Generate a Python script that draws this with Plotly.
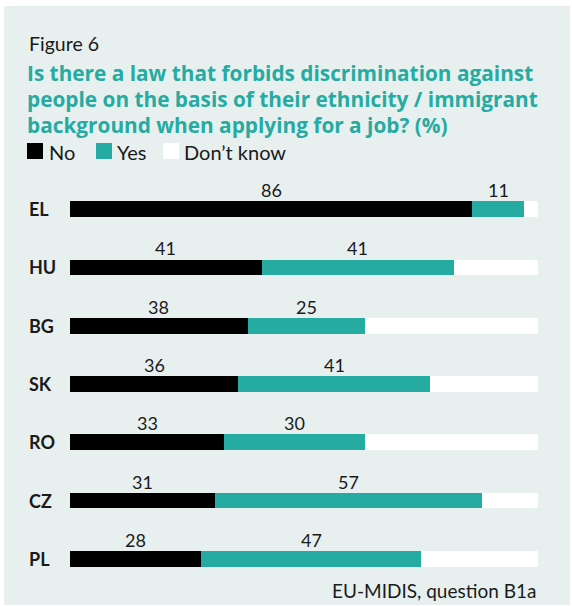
import plotly.graph_objects as go

# ---- data ----
countries = ["EL", "HU", "BG", "SK", "RO", "CZ", "PL"]
no_vals = [86, 41, 38, 36, 33, 31, 28]
yes_vals = [11, 41, 25, 41, 30, 57, 47]
dk_vals = [3, 18, 37, 23, 37, 12, 25]
series_names = ["No", "Yes", "Don\u2019t know"]
title_lines = ["Is there a law that forbids discrimination against",
               "people on the basis of their ethnicity / immigrant",
               "background when applying for a job? (%)"]

TEAL = "#25aba2"
PANEL = "#e7f0ef"
FONT = "Lato"
TFONT = "Open Sans"

W, H = 572, 606
ML, MR, MT, MB = 70, 34, 180, 18
PW, PH = W - ML - MR, H - MT - MB


def px(x):
    return (x - ML) / PW


def py(y):
    return (H - MB - y) / PH


fig = go.Figure()
fig.add_trace(go.Bar(y=countries, x=no_vals, name=series_names[0], orientation="h",
                     marker=dict(color="#000000", line=dict(width=0)), width=0.27))
fig.add_trace(go.Bar(y=countries, x=yes_vals, name=series_names[1], orientation="h",
                     marker=dict(color=TEAL, line=dict(width=0)), width=0.27))
fig.add_trace(go.Bar(y=countries, x=dk_vals, name=series_names[2], orientation="h",
                     marker=dict(color="#ffffff", line=dict(width=0)), width=0.27))

annotations = []
# value labels above segments (No and Yes)
for c, n, yv in zip(countries, no_vals, yes_vals):
    annotations.append(dict(x=n / 2, y=c, xref="x", yref="y", text=str(n), showarrow=False,
                            yshift=19, font=dict(family=FONT, size=18, color="#1a1a1a")))
    annotations.append(dict(x=n + yv / 2, y=c, xref="x", yref="y", text=str(yv), showarrow=False,
                            yshift=19, font=dict(family=FONT, size=18, color="#1a1a1a")))
# country labels
for c in countries:
    annotations.append(dict(x=px(27), y=c, xref="paper", yref="y", text="<b>%s</b>" % c,
                            showarrow=False, xanchor="left",
                            font=dict(family=FONT, size=18, color="#1a1a1a")))

# header texts
annotations.append(dict(x=px(27), y=py(43), xref="paper", yref="paper", text="Figure 6",
                        showarrow=False, xanchor="left", yanchor="middle",
                        font=dict(family=FONT, size=19.5, color="#1a1a1a")))
for line, yc in zip(title_lines, [73, 99, 125]):
    annotations.append(dict(x=px(25), y=py(yc), xref="paper", yref="paper",
                            text="<b>%s</b>" % line,
                            showarrow=False, xanchor="left", yanchor="middle", align="left",
                            font=dict(family=TFONT, size=20.8, color=TEAL)))
annotations.append(dict(x=px(538), y=py(590), xref="paper", yref="paper",
                        text="EU-MIDIS, question B1a", showarrow=False,
                        xanchor="right", yanchor="middle",
                        font=dict(family=FONT, size=19, color="#1a1a1a")))

# manual legend
shapes = [dict(type="rect", xref="paper", yref="paper", x0=px(4), x1=px(570),
               y0=py(605), y1=py(6), fillcolor=PANEL, line=dict(width=0), layer="below")]
legend_pos = [(27, 47), (96, 115), (163, 182)]
legend_cols = ["#000000", TEAL, "#ffffff"]
for (sx, tx), col, name in zip(legend_pos, legend_cols, series_names):
    shapes.append(dict(type="rect", xref="paper", yref="paper", x0=px(sx), x1=px(sx + 16),
                       y0=py(159), y1=py(143), fillcolor=col, line=dict(width=0)))
    annotations.append(dict(x=px(tx), y=py(152), xref="paper", yref="paper", text=name,
                            showarrow=False, xanchor="left", yanchor="middle",
                            font=dict(family=FONT, size=20, color="#1a1a1a")))

fig.update_layout(
    width=W, height=H, barmode="stack", showlegend=False,
    margin=dict(l=ML, r=MR, t=MT, b=MB, pad=0),
    paper_bgcolor="#ffffff", plot_bgcolor="rgba(0,0,0,0)",
    xaxis=dict(range=[0, 100], visible=False, fixedrange=True),
    yaxis=dict(categoryorder="array", categoryarray=countries, autorange=False,
               range=[6.5, -0.5], visible=False, fixedrange=True),
    annotations=annotations, shapes=shapes,
    font=dict(family=FONT),
)

fig.write_html("out.html", config={"displayModeBar": False},
               post_script="document.body.style.margin='0px';")
